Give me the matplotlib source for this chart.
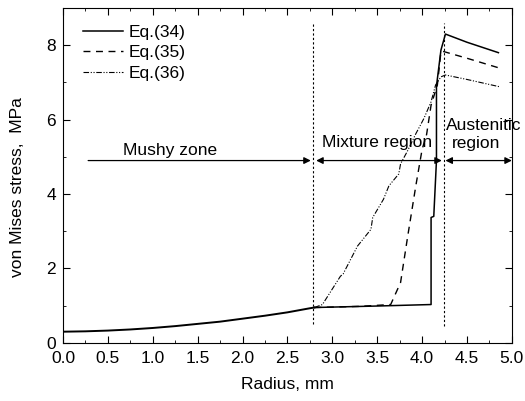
import numpy as np
import matplotlib.pyplot as plt
from matplotlib.ticker import MultipleLocator

plt.rcParams['font.family'] = ['Liberation Sans', 'DejaVu Sans']
plt.rcParams['font.size'] = 12.5

# common part in the mushy zone (all three equations coincide)
r_mushy = [0.0, 0.25, 0.5, 0.75, 1.0, 1.25, 1.5, 1.75, 2.0, 2.25, 2.5, 2.75, 2.8]
s_mushy = [0.30, 0.31, 0.33, 0.36, 0.40, 0.45, 0.51, 0.57, 0.65, 0.73, 0.82, 0.93, 0.95]

# Eq.(34)
r_34 = [2.8, 3.5, 4.10, 4.10, 4.13, 4.16, 4.16, 4.21, 4.26, 4.5, 4.85]
s_34 = [0.95, 0.99, 1.03, 3.37, 3.40, 4.9, 6.9, 7.87, 8.3, 8.08, 7.8]

# Eq.(35)
r_35 = [2.8, 3.3, 3.65, 3.76, 3.84, 3.93, 4.0, 4.05, 4.10, 4.17, 4.21, 4.24, 4.5, 4.87]
s_35 = [0.95, 0.98, 1.03, 1.62, 2.87, 4.22, 5.2, 5.6, 6.39, 6.93, 7.83, 7.83, 7.65, 7.38]

# Eq.(36)
r_36 = [2.8, 2.89, 3.09, 3.12, 3.28, 3.43, 3.45, 3.57, 3.63, 3.74, 3.76, 3.84,
        3.93, 4.02, 4.10, 4.15, 4.21, 4.26, 4.5, 4.87]
s_36 = [0.95, 1.03, 1.79, 1.85, 2.6, 3.05, 3.37, 3.86, 4.22, 4.54, 4.81, 5.17,
        5.62, 6.03, 6.48, 6.93, 7.15, 7.2, 7.08, 6.88]

fig, ax = plt.subplots(figsize=(5.25, 4.01), dpi=100)
fig.subplots_adjust(left=0.12, right=0.975, top=0.98, bottom=0.145)

ax.plot(r_mushy, s_mushy, color='black', lw=1.4)
ax.plot(r_34, s_34, color='black', lw=1.1, label='Eq.(34)')
ax.plot(r_35, s_35, color='black', lw=1.0, ls=(0, (5, 4)), label='Eq.(35)')
ax.plot(r_36, s_36, color='black', lw=0.8, ls=(0, (5, 1.5, 1, 1.5, 1, 1.5)),
        label='Eq.(36)')

# region boundaries
ax.plot([2.78, 2.78], [0.5, 8.6], color='black', lw=0.8, ls=(0, (2, 2)))
ax.plot([4.24, 4.24], [0.45, 8.6], color='black', lw=0.8, ls=(0, (2, 2)))

# region arrows
arr = dict(arrowstyle='-|>', color='black', lw=0.9, mutation_scale=10,
           shrinkA=0, shrinkB=0)
arr2 = dict(arrowstyle='<|-|>', color='black', lw=0.9, mutation_scale=10,
            shrinkA=0, shrinkB=0)
ax.annotate('', xy=(2.76, 4.9), xytext=(0.28, 4.9), arrowprops=arr)
ax.annotate('', xy=(4.22, 4.9), xytext=(2.82, 4.9), arrowprops=arr2)
ax.annotate('', xy=(5.0, 4.9), xytext=(4.26, 4.9), arrowprops=arr2)

ax.text(0.67, 5.05, 'Mushy zone')
ax.text(2.89, 5.26, 'Mixture region')
ax.text(4.27, 5.71, 'Austenitic')
ax.text(4.33, 5.23, 'region')

ax.set_xlim(0, 5)
ax.set_ylim(0, 9)
ax.xaxis.set_major_locator(MultipleLocator(0.5))
ax.xaxis.set_minor_locator(MultipleLocator(0.25))
ax.yaxis.set_major_locator(MultipleLocator(2))
ax.yaxis.set_minor_locator(MultipleLocator(1))
ax.xaxis.set_major_formatter(plt.FormatStrFormatter('%.1f'))
ax.tick_params(which='both', direction='in', top=True, right=True)
ax.tick_params(which='major', length=5)
ax.tick_params(which='minor', length=2.5)
ax.tick_params(axis='x', pad=6)
ax.tick_params(axis='y', pad=5)

ax.set_xlabel('Radius, mm', labelpad=8)
ax.set_ylabel('von Mises stress,  MPa')
ax.yaxis.set_label_coords(-0.085, 0.464)

ax.legend(loc='upper left', frameon=False, handlelength=2.3, handletextpad=0.3,
          labelspacing=0.3, bbox_to_anchor=(0.045, 0.95), borderaxespad=0,
          borderpad=0)

fig.savefig('out.png', dpi=100)
